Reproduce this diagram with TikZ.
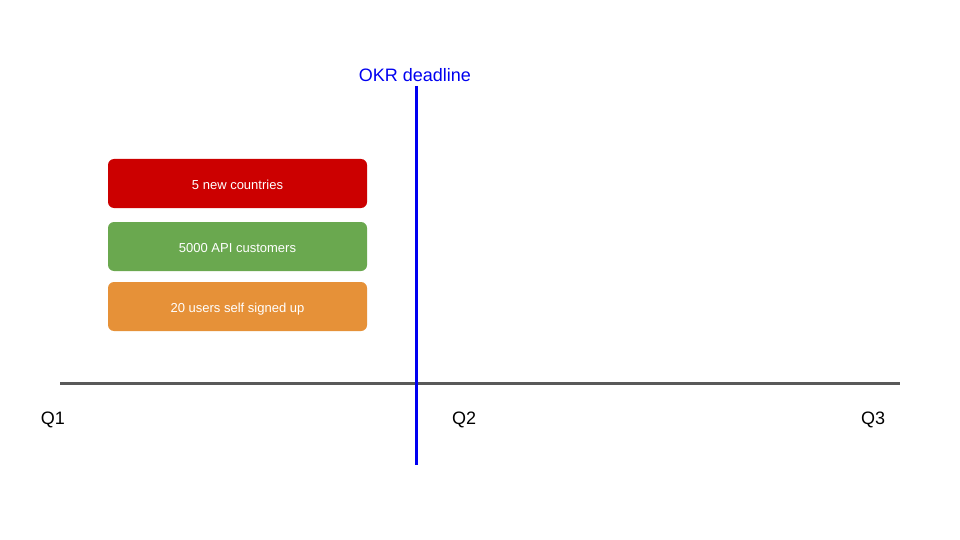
\documentclass[tikz,border=0pt]{standalone}
\usepackage{fontspec}
\setmainfont{Liberation Sans}
\definecolor{okrred}{HTML}{CC0000}
\definecolor{okrgreen}{HTML}{6AA84F}
\definecolor{okrorange}{HTML}{E69138}
\definecolor{axisgray}{HTML}{595959}
\definecolor{deadblue}{HTML}{0000F0}
\begin{document}
\begin{tikzpicture}[x=1pt,y=-1pt,
  goal/.style={rounded corners=6pt, minimum width=259pt, minimum height=49pt, inner sep=0pt, text height=12.4pt, text depth=0pt, text=white, font=\fontsize{13}{15}\selectfont},
  qlabel/.style={font=\fontsize{18}{21}\selectfont, text=black, inner sep=0pt}]
\useasboundingbox[fill=white] (0,0) rectangle (960,540);
\coordinate (axL) at (60,383);
\coordinate (axR) at (900,383);
\draw[axisgray, line width=3pt] (axL) -- (axR);
\coordinate (dlT) at (416,86);
\coordinate (dlB) at (416,465);
\draw[deadblue, line width=3pt] (dlT) -- (dlB);
\node[font=\fontsize{18}{21}\selectfont, text=deadblue, inner sep=0pt] (okr) at (415,75.5) {OKR deadline};
\node[goal, fill=okrred] (g1) at (237.5,183.5) {5 new countries};
\node[goal, fill=okrgreen] (g2) at (237.5,246.5) {5000 API customers};
\node[goal, fill=okrorange] (g3) at (237.5,306.5) {20 users self signed up};
\node[qlabel] (q1) at (53,419.5) {Q1};
\node[qlabel] (q2) at (464,419.5) {Q2};
\node[qlabel] (q3) at (873,419.5) {Q3};
\end{tikzpicture}
\end{document}
